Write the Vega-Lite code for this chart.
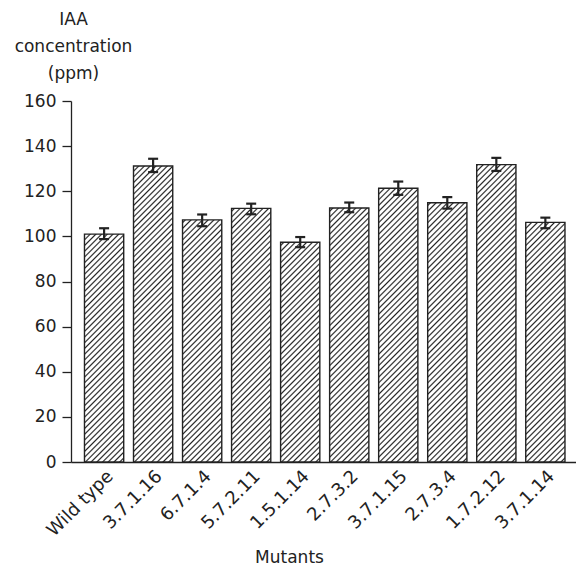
{
  "$schema": "https://vega.github.io/schema/vega-lite/v6.json",
  "width": 505,
  "height": 361,
  "autosize": {"type": "none"},
  "padding": {"left": 71, "top": 101, "right": 0, "bottom": 104},
  "config": {"view": {"stroke": null}, "font": "DejaVu Sans", "background": "white"},
  "data": {"values": [
    {"mutant": "Wild type", "iaa": 101.0, "lo": 98.8, "hi": 103.6},
    {"mutant": "3.7.1.16", "iaa": 131.2, "lo": 128.5, "hi": 134.4},
    {"mutant": "6.7.1.4", "iaa": 107.3, "lo": 104.5, "hi": 109.7},
    {"mutant": "5.7.2.11", "iaa": 112.4, "lo": 109.8, "hi": 114.5},
    {"mutant": "1.5.1.14", "iaa": 97.4, "lo": 95.2, "hi": 99.7},
    {"mutant": "2.7.3.2", "iaa": 112.6, "lo": 110.7, "hi": 115.0},
    {"mutant": "3.7.1.15", "iaa": 121.3, "lo": 118.4, "hi": 124.3},
    {"mutant": "2.7.3.4", "iaa": 114.9, "lo": 112.3, "hi": 117.4},
    {"mutant": "1.7.2.12", "iaa": 131.8, "lo": 129.0, "hi": 134.8},
    {"mutant": "3.7.1.14", "iaa": 106.2, "lo": 103.6, "hi": 108.3}
  ]},
  "encoding": {
    "x": {
      "field": "mutant", "type": "nominal", "sort": null,
      "scale": {"paddingInner": 0.2, "paddingOuter": 0.25, "align": 0.55},
      "axis": {
        "title": "Mutants", "ticks": false, "domainColor": "#222", "domainWidth": 1.3,
        "labelAngle": -45, "labelAlign": "right", "labelBaseline": "top", "labelPadding": 5,
        "labelFontSize": 18, "labelColor": "#222", "labelOverlap": false, "labelLimit": 0, "labelBound": false,
        "titleFontSize": 17, "titleFontWeight": "normal", "titleColor": "#222",
        "titleX": 218, "titleY": 100, "titleBaseline": "alphabetic"
      }
    }
  },
  "layer": [
    {
      "mark": {"type": "bar", "stroke": null, "fill": {
        "gradient": "linear", "x1": 0, "y1": 0, "x2": 0.1193, "y2": 1.0961,
        "stops": [
          {"offset":0,"color":"#fff"},{"offset":0.004,"color":"#222"},{"offset":0.008,"color":"#fff"},
          {"offset":0.0143,"color":"#fff"},{"offset":0.0183,"color":"#222"},{"offset":0.0223,"color":"#fff"},
          {"offset":0.0286,"color":"#fff"},{"offset":0.0326,"color":"#222"},{"offset":0.0366,"color":"#fff"},
          {"offset":0.0429,"color":"#fff"},{"offset":0.0469,"color":"#222"},{"offset":0.0509,"color":"#fff"},
          {"offset":0.0571,"color":"#fff"},{"offset":0.0611,"color":"#222"},{"offset":0.0651,"color":"#fff"},
          {"offset":0.0714,"color":"#fff"},{"offset":0.0754,"color":"#222"},{"offset":0.0794,"color":"#fff"},
          {"offset":0.0857,"color":"#fff"},{"offset":0.0897,"color":"#222"},{"offset":0.0937,"color":"#fff"},
          {"offset":0.1,"color":"#fff"},{"offset":0.104,"color":"#222"},{"offset":0.108,"color":"#fff"},
          {"offset":0.1143,"color":"#fff"},{"offset":0.1183,"color":"#222"},{"offset":0.1223,"color":"#fff"},
          {"offset":0.1286,"color":"#fff"},{"offset":0.1326,"color":"#222"},{"offset":0.1366,"color":"#fff"},
          {"offset":0.1429,"color":"#fff"},{"offset":0.1469,"color":"#222"},{"offset":0.1509,"color":"#fff"},
          {"offset":0.1571,"color":"#fff"},{"offset":0.1611,"color":"#222"},{"offset":0.1651,"color":"#fff"},
          {"offset":0.1714,"color":"#fff"},{"offset":0.1754,"color":"#222"},{"offset":0.1794,"color":"#fff"},
          {"offset":0.1857,"color":"#fff"},{"offset":0.1897,"color":"#222"},{"offset":0.1937,"color":"#fff"},
          {"offset":0.2,"color":"#fff"},{"offset":0.204,"color":"#222"},{"offset":0.208,"color":"#fff"},
          {"offset":0.2143,"color":"#fff"},{"offset":0.2183,"color":"#222"},{"offset":0.2223,"color":"#fff"},
          {"offset":0.2286,"color":"#fff"},{"offset":0.2326,"color":"#222"},{"offset":0.2366,"color":"#fff"},
          {"offset":0.2429,"color":"#fff"},{"offset":0.2469,"color":"#222"},{"offset":0.2509,"color":"#fff"},
          {"offset":0.2571,"color":"#fff"},{"offset":0.2611,"color":"#222"},{"offset":0.2651,"color":"#fff"},
          {"offset":0.2714,"color":"#fff"},{"offset":0.2754,"color":"#222"},{"offset":0.2794,"color":"#fff"},
          {"offset":0.2857,"color":"#fff"},{"offset":0.2897,"color":"#222"},{"offset":0.2937,"color":"#fff"},
          {"offset":0.3,"color":"#fff"},{"offset":0.304,"color":"#222"},{"offset":0.308,"color":"#fff"},
          {"offset":0.3143,"color":"#fff"},{"offset":0.3183,"color":"#222"},{"offset":0.3223,"color":"#fff"},
          {"offset":0.3286,"color":"#fff"},{"offset":0.3326,"color":"#222"},{"offset":0.3366,"color":"#fff"},
          {"offset":0.3429,"color":"#fff"},{"offset":0.3469,"color":"#222"},{"offset":0.3509,"color":"#fff"},
          {"offset":0.3571,"color":"#fff"},{"offset":0.3611,"color":"#222"},{"offset":0.3651,"color":"#fff"},
          {"offset":0.3714,"color":"#fff"},{"offset":0.3754,"color":"#222"},{"offset":0.3794,"color":"#fff"},
          {"offset":0.3857,"color":"#fff"},{"offset":0.3897,"color":"#222"},{"offset":0.3937,"color":"#fff"},
          {"offset":0.4,"color":"#fff"},{"offset":0.404,"color":"#222"},{"offset":0.408,"color":"#fff"},
          {"offset":0.4143,"color":"#fff"},{"offset":0.4183,"color":"#222"},{"offset":0.4223,"color":"#fff"},
          {"offset":0.4286,"color":"#fff"},{"offset":0.4326,"color":"#222"},{"offset":0.4366,"color":"#fff"},
          {"offset":0.4429,"color":"#fff"},{"offset":0.4469,"color":"#222"},{"offset":0.4509,"color":"#fff"},
          {"offset":0.4571,"color":"#fff"},{"offset":0.4611,"color":"#222"},{"offset":0.4651,"color":"#fff"},
          {"offset":0.4714,"color":"#fff"},{"offset":0.4754,"color":"#222"},{"offset":0.4794,"color":"#fff"},
          {"offset":0.4857,"color":"#fff"},{"offset":0.4897,"color":"#222"},{"offset":0.4937,"color":"#fff"},
          {"offset":0.5,"color":"#fff"},{"offset":0.504,"color":"#222"},{"offset":0.508,"color":"#fff"},
          {"offset":0.5143,"color":"#fff"},{"offset":0.5183,"color":"#222"},{"offset":0.5223,"color":"#fff"},
          {"offset":0.5286,"color":"#fff"},{"offset":0.5326,"color":"#222"},{"offset":0.5366,"color":"#fff"},
          {"offset":0.5429,"color":"#fff"},{"offset":0.5469,"color":"#222"},{"offset":0.5509,"color":"#fff"},
          {"offset":0.5571,"color":"#fff"},{"offset":0.5611,"color":"#222"},{"offset":0.5651,"color":"#fff"},
          {"offset":0.5714,"color":"#fff"},{"offset":0.5754,"color":"#222"},{"offset":0.5794,"color":"#fff"},
          {"offset":0.5857,"color":"#fff"},{"offset":0.5897,"color":"#222"},{"offset":0.5937,"color":"#fff"},
          {"offset":0.6,"color":"#fff"},{"offset":0.604,"color":"#222"},{"offset":0.608,"color":"#fff"},
          {"offset":0.6143,"color":"#fff"},{"offset":0.6183,"color":"#222"},{"offset":0.6223,"color":"#fff"},
          {"offset":0.6286,"color":"#fff"},{"offset":0.6326,"color":"#222"},{"offset":0.6366,"color":"#fff"},
          {"offset":0.6429,"color":"#fff"},{"offset":0.6469,"color":"#222"},{"offset":0.6509,"color":"#fff"},
          {"offset":0.6571,"color":"#fff"},{"offset":0.6611,"color":"#222"},{"offset":0.6651,"color":"#fff"},
          {"offset":0.6714,"color":"#fff"},{"offset":0.6754,"color":"#222"},{"offset":0.6794,"color":"#fff"},
          {"offset":0.6857,"color":"#fff"},{"offset":0.6897,"color":"#222"},{"offset":0.6937,"color":"#fff"},
          {"offset":0.7,"color":"#fff"},{"offset":0.704,"color":"#222"},{"offset":0.708,"color":"#fff"},
          {"offset":0.7143,"color":"#fff"},{"offset":0.7183,"color":"#222"},{"offset":0.7223,"color":"#fff"},
          {"offset":0.7286,"color":"#fff"},{"offset":0.7326,"color":"#222"},{"offset":0.7366,"color":"#fff"},
          {"offset":0.7429,"color":"#fff"},{"offset":0.7469,"color":"#222"},{"offset":0.7509,"color":"#fff"},
          {"offset":0.7571,"color":"#fff"},{"offset":0.7611,"color":"#222"},{"offset":0.7651,"color":"#fff"},
          {"offset":0.7714,"color":"#fff"},{"offset":0.7754,"color":"#222"},{"offset":0.7794,"color":"#fff"},
          {"offset":0.7857,"color":"#fff"},{"offset":0.7897,"color":"#222"},{"offset":0.7937,"color":"#fff"},
          {"offset":0.8,"color":"#fff"},{"offset":0.804,"color":"#222"},{"offset":0.808,"color":"#fff"},
          {"offset":0.8143,"color":"#fff"},{"offset":0.8183,"color":"#222"},{"offset":0.8223,"color":"#fff"},
          {"offset":0.8286,"color":"#fff"},{"offset":0.8326,"color":"#222"},{"offset":0.8366,"color":"#fff"},
          {"offset":0.8429,"color":"#fff"},{"offset":0.8469,"color":"#222"},{"offset":0.8509,"color":"#fff"},
          {"offset":0.8571,"color":"#fff"},{"offset":0.8611,"color":"#222"},{"offset":0.8651,"color":"#fff"},
          {"offset":0.8714,"color":"#fff"},{"offset":0.8754,"color":"#222"},{"offset":0.8794,"color":"#fff"},
          {"offset":0.8857,"color":"#fff"},{"offset":0.8897,"color":"#222"},{"offset":0.8937,"color":"#fff"},
          {"offset":0.9,"color":"#fff"},{"offset":0.904,"color":"#222"},{"offset":0.908,"color":"#fff"},
          {"offset":0.9143,"color":"#fff"},{"offset":0.9183,"color":"#222"},{"offset":0.9223,"color":"#fff"},
          {"offset":0.9286,"color":"#fff"},{"offset":0.9326,"color":"#222"},{"offset":0.9366,"color":"#fff"},
          {"offset":0.9429,"color":"#fff"},{"offset":0.9469,"color":"#222"},{"offset":0.9509,"color":"#fff"},
          {"offset":0.9571,"color":"#fff"},{"offset":0.9611,"color":"#222"},{"offset":0.9651,"color":"#fff"},
          {"offset":0.9714,"color":"#fff"},{"offset":0.9754,"color":"#222"},{"offset":0.9794,"color":"#fff"},
          {"offset":0.9857,"color":"#fff"},{"offset":0.9897,"color":"#222"},{"offset":0.9937,"color":"#fff"},
          {"offset":1,"color":"#fff"}
        ]}},
      "encoding": {
        "y": {
          "datum": 160, "type": "quantitative",
          "scale": {"domain": [0, 160], "nice": false},
          "axis": {
            "values": [0, 20, 40, 60, 80, 100, 120, 140, 160],
            "grid": false, "tickSize": 9, "tickColor": "#222", "tickWidth": 1.3,
            "domainColor": "#222", "domainWidth": 1.3,
            "labelFontSize": 17, "labelColor": "#222", "labelPadding": 6,
            "title": ["IAA", "concentration", "(ppm)"],
            "titleAngle": 0, "titleFontSize": 17, "titleFontWeight": "normal", "titleColor": "#222",
            "titleAlign": "center", "titleBaseline": "top", "titleLineHeight": 27,
            "titleX": 2, "titleY": -90
          }
        },
        "y2": {"datum": 0}
      }
    },
    {
      "mark": {"type": "bar", "fill": "white", "stroke": null, "width": {"band": 1.1}},
      "encoding": {
        "y": {"field": "iaa", "type": "quantitative"},
        "y2": {"datum": 160}
      }
    },
    {
      "mark": {"type": "bar", "fillOpacity": 0, "stroke": "#222", "strokeWidth": 1.4},
      "encoding": {
        "y": {"field": "iaa", "type": "quantitative"}
      }
    },
    {
      "mark": {"type": "rule", "color": "#222", "strokeWidth": 2.2},
      "encoding": {
        "y": {"field": "lo", "type": "quantitative"},
        "y2": {"field": "hi"}
      }
    },
    {
      "mark": {"type": "tick", "orient": "horizontal", "color": "#222", "opacity": 1, "size": 10, "thickness": 2.2},
      "encoding": {
        "y": {"field": "lo", "type": "quantitative"}
      }
    },
    {
      "mark": {"type": "tick", "orient": "horizontal", "color": "#222", "opacity": 1, "size": 10, "thickness": 2.2},
      "encoding": {
        "y": {"field": "hi", "type": "quantitative"}
      }
    }
  ]
}
